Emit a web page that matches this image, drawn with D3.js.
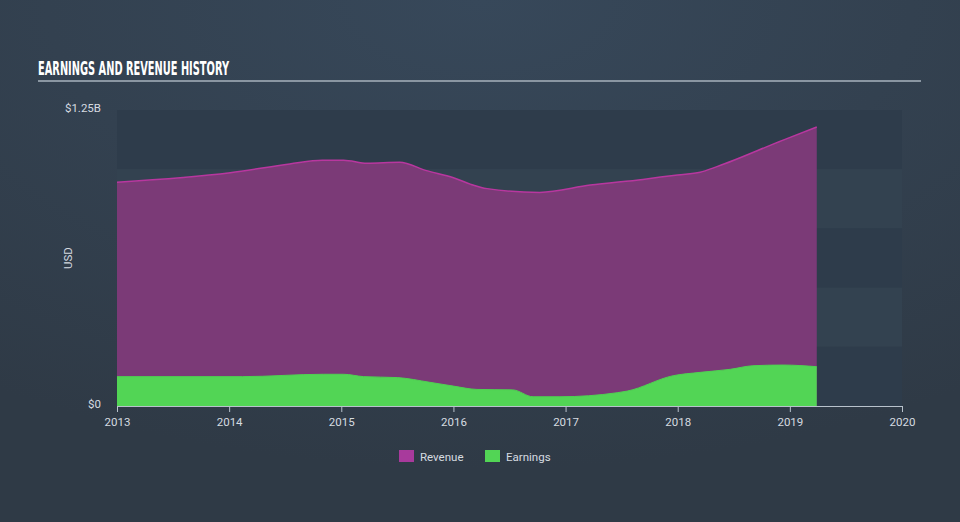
<!DOCTYPE html>
<html><head><meta charset="utf-8">
<script src="https://cdn.jsdelivr.net/npm/d3@7"></script>
<style>
html,body{margin:0;padding:0;background:#323f4d;}
svg{display:block;}
</style></head>
<body>
<svg id="chart" width="960" height="522"></svg>
<script>
// Data (values in billions USD)
const revenueDates = [2013.00, 2014.01, 2014.54, 2014.83, 2015.02, 2015.23, 2015.52, 2015.76, 2016.0, 2016.15, 2016.3, 2016.77, 2017.22, 2017.69, 2018.0, 2018.2, 2018.35, 2018.94, 2019.24];
const revenueValues = [0.945, 0.985, 1.022, 1.038, 1.038, 1.025, 1.029, 0.994, 0.964, 0.937, 0.918, 0.902, 0.933, 0.957, 0.976, 0.987, 1.011, 1.123, 1.178];
const earningsDates = [2013.00, 2014.12, 2014.84, 2015.02, 2015.2, 2015.5, 2015.79, 2016.0, 2016.21, 2016.53, 2016.71, 2016.95, 2017.46, 2017.55, 2017.96, 2018.2, 2018.47, 2018.67, 2018.94, 2019.24];
const earningsValues = [0.124, 0.124, 0.134, 0.134, 0.124, 0.120, 0.100, 0.084, 0.070, 0.068, 0.039, 0.039, 0.056, 0.063, 0.128, 0.142, 0.155, 0.170, 0.173, 0.166];
const xTicks = [2013, 2014, 2015, 2016, 2017, 2018, 2019, 2020];
const yTicks = [0, 1.25];
const yTickLabels = ["$0", "$1.25B"];
const legendItems = ["Revenue", "Earnings"];

const svg = d3.select("#chart");
const W = 960, H = 522;
const m = {left: 117, right: 58, top: 110, bottom: 116};
const pw = W - m.left - m.right, ph = H - m.top - m.bottom;

// background gradient
const defs = svg.append("defs");
const rg = defs.append("radialGradient").attr("id", "bg").attr("cx", "50%").attr("cy", "0%").attr("r", "90%");
rg.append("stop").attr("offset", "0%").attr("stop-color", "#37485a");
rg.append("stop").attr("offset", "100%").attr("stop-color", "#2f3a46");
svg.append("rect").attr("width", W).attr("height", H).attr("fill", "url(#bg)");

// title
svg.append("text").attr("x", 38).attr("y", 75)
  .attr("font-family", "'DejaVu Sans Condensed','Liberation Sans Narrow',sans-serif")
  .attr("font-weight", "bold").attr("font-size", 19).attr("fill", "#ffffff")
  .attr("textLength", 191).attr("lengthAdjust", "spacingAndGlyphs")
  .text("EARNINGS AND REVENUE HISTORY");
svg.append("rect").attr("x", 38).attr("y", 80).attr("width", 883).attr("height", 2).attr("fill", "#8a96a2");

const x = d3.scaleLinear().domain([2013, 2020]).range([m.left, m.left + pw]);
const y = d3.scaleLinear().domain([0, 1.25]).range([m.top + ph, m.top]);

// bands
const bandEdges = d3.range(0, 5);
const bandH = ph / 5;
svg.append("g").selectAll("rect").data(bandEdges).join("rect")
  .attr("x", m.left).attr("width", pw)
  .attr("y", d => m.top + d * bandH).attr("height", bandH)
  .attr("fill", d => d % 2 === 0 ? "#2e3c4b" : "#334250");

const rev = revenueDates.map((d, i) => ({x: d, y: revenueValues[i]}));
const ear = earningsDates.map((d, i) => ({x: d, y: earningsValues[i]}));

const area = d3.area().x(d => x(d.x)).y0(y(0)).y1(d => y(d.y)).curve(d3.curveMonotoneX);
const line = d3.line().x(d => x(d.x)).y(d => y(d.y)).curve(d3.curveMonotoneX);

svg.append("path").datum(rev).attr("d", area).attr("fill", "#7b3a77");
svg.append("path").datum(rev).attr("d", line).attr("fill", "none").attr("stroke", "#b8379f").attr("stroke-width", 1.5);
svg.append("path").datum(ear).attr("d", area).attr("fill", "#52d555");
svg.append("path").datum(ear).attr("d", line).attr("fill", "none").attr("stroke", "#4fd152").attr("stroke-width", 1);

// x axis
const xAxis = d3.axisBottom(x).tickValues(xTicks).tickFormat(d3.format("d")).tickSize(6).tickSizeOuter(0);
const gx = svg.append("g").attr("transform", `translate(0,${m.top + ph})`).call(xAxis);
gx.select(".domain").attr("stroke", "#b8c2cc");
gx.selectAll(".tick line").attr("stroke", "#b8c2cc");
gx.selectAll("text").attr("fill", "#d6dbe0").attr("font-size", 11.5).attr("font-family", "Roboto, sans-serif").attr("dy", "0.95em");

// y labels
const yAxis = d3.axisLeft(y).tickValues(yTicks).tickFormat((d, i) => yTickLabels[i]).tickSize(0).tickPadding(16);
const gy = svg.append("g").attr("transform", `translate(${m.left},0)`).call(yAxis);
gy.select(".domain").remove();
gy.selectAll("text").attr("fill", "#d6dbe0").attr("font-size", 11.5).attr("font-family", "Roboto, sans-serif")
  .attr("dy", "0.1em");

svg.append("text").attr("transform", `translate(72,${m.top + ph / 2}) rotate(-90)`)
  .attr("text-anchor", "middle").attr("fill", "#d6dbe0").attr("font-size", 11.5)
  .attr("font-family", "Roboto, sans-serif").text("USD");

// legend
const legendColors = ["#a83a9c", "#52d555"];
const legendX = [399, 485];
const lg = svg.append("g");
legendItems.forEach((name, i) => {
  lg.append("rect").attr("x", legendX[i]).attr("y", 450).attr("width", 15).attr("height", 12).attr("fill", legendColors[i]);
  lg.append("text").attr("x", legendX[i] + 21).attr("y", 460.5).attr("fill", "#d6dbe0")
    .attr("font-size", 11.5).attr("font-family", "Roboto, sans-serif").text(name);
});
</script>
</body></html>
